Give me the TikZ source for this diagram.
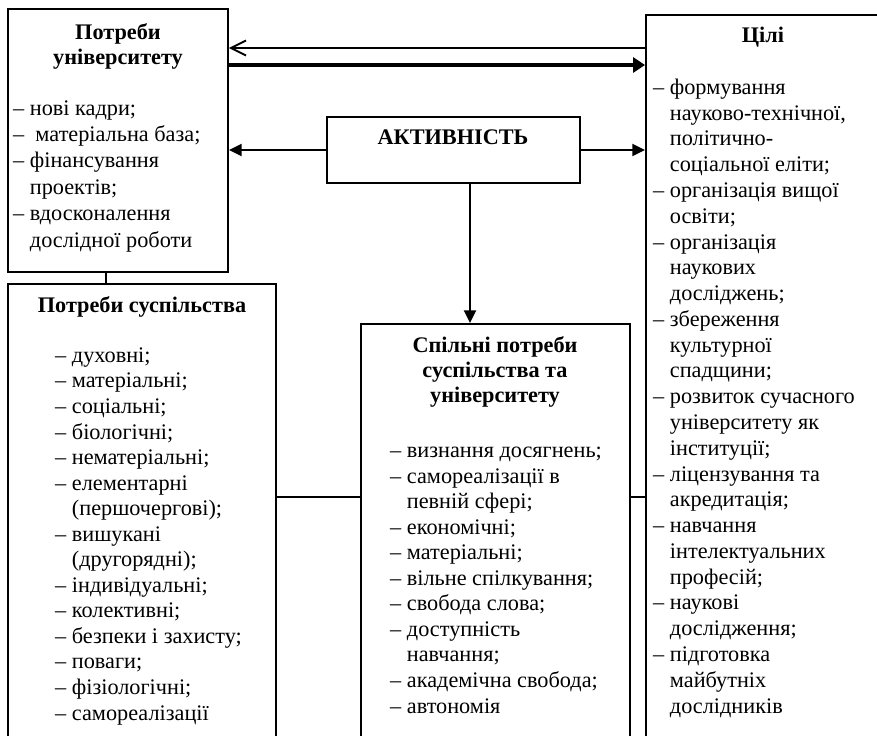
\documentclass[tikz,border=0pt]{standalone}
\usepackage{fontspec}
\setmainfont{Liberation Serif}
\usetikzlibrary{arrows.meta,fit}

\newcommand{\ind}{\hphantom{– }}

\begin{document}
\begin{tikzpicture}[
        x=0.03cm, y=-0.03cm,
        box/.style={rectangle, draw, line width=1.6pt, inner sep=0pt},
        title/.style={font=\fontsize{19}{#1}\selectfont\bfseries, align=center, anchor=base, inner sep=0pt},
        title/.default=22,
        items/.style={font=\fontsize{19}{#1}\selectfont, align=left, anchor=base west, inner sep=0pt},
        items/.default=22,
        arrow/.style={-{Triangle[length=0.38cm, width=0.36cm]}, line width=1.6pt},
        thickarrow/.style={-{Triangle[length=0.36cm, width=0.45cm]}, line width=3.4pt},
        barb/.style={-{Straight Barb[length=0.45cm, width=0.45cm]}, line width=1.6pt},
        link/.style={line width=1.6pt}
    ]

    \useasboundingbox (0,0) rectangle (877,736);

    \node[box, fit={(8,9) (228,272)}] (univ) {};
    \node[box, fit={(8,284) (276,760)}] (soc) {};
    \node[box, fit={(646,15) (880,760)}] (tsili) {};
    \node[box, fit={(361,324) (630,760)}] (spil) {};
    \node[box, fit={(327,117) (580,183)}] (akt) {};

    % anchor base = baseline of the last line
    \node[title=22.1] (univ-t) at (118,65) {Потреби\\університету};
    \node[items=22.5] (univ-l) at (13,247) {– нові кадри;\\– \ матеріальна база;\\– фінансування\\\ind проектів;\\– вдосконалення\\\ind дослідної роботи};

    \node[title] (soc-t) at (142,312) {Потреби суспільства};
    \node[items=21.8] (soc-l) at (55,720) {– духовні;\\– матеріальні;\\– соціальні;\\– біологічні;\\– нематеріальні;\\– елементарні\\\ind (першочергові);\\– вишукані\\\ind (другорядні);\\– індивідуальні;\\– колективні;\\– безпеки і захисту;\\– поваги;\\– фізіологічні;\\– самореалізації};

    \node[title] (tsili-t) at (763,43) {Цілі};
    \node[items=22] (tsili-l) at (653,713) {– формування\\\ind науково-технічної,\\\ind політично-\\\ind соціальної еліти;\\– організація вищої\\\ind освіти;\\– організація\\\ind наукових\\\ind досліджень;\\– збереження\\\ind культурної\\\ind спадщини;\\– розвиток сучасного\\\ind університету як\\\ind інституції;\\– ліцензування та\\\ind акредитація;\\– навчання\\\ind інтелектуальних\\\ind професій;\\– наукові\\\ind дослідження;\\– підготовка\\\ind майбутніх\\\ind дослідників};

    \node[title=21.3] (spil-t) at (495,402) {Спільні потреби\\суспільства та\\університету};
    \node[items=21.8] (spil-l) at (390,713) {– визнання досягнень;\\– самореалізації в\\\ind певній сфері;\\– економічні;\\– матеріальні;\\– вільне спілкування;\\– свобода слова;\\– доступність\\\ind навчання;\\– академічна свобода;\\– автономія};

    \node[title] (akt-t) at (453,145) {АКТИВНІСТЬ};

    \coordinate (k1) at (0,48);
    \coordinate (k2) at (0,65);
    \coordinate (k3) at (470,0);
    \coordinate (k4) at (106,0);
    \coordinate (k5) at (0,497);

    \draw[barb] (tsili.west |- k1) -- (univ.east |- k1);
    \draw[thickarrow] (univ.east |- k2) -- (tsili.west |- k2);
    \draw[arrow] (akt.west) -- (univ.east |- akt.west);
    \draw[arrow] (akt.east) -- (tsili.west |- akt.east);
    \draw[arrow] (akt.south -| k3) -- (spil.north -| k3);
    \draw[link] (univ.south -| k4) -- (soc.north -| k4);
    \draw[link] (soc.east |- k5) -- (spil.west |- k5);
    \draw[link] (spil.east |- k5) -- (tsili.west |- k5);

\end{tikzpicture}
\end{document}
